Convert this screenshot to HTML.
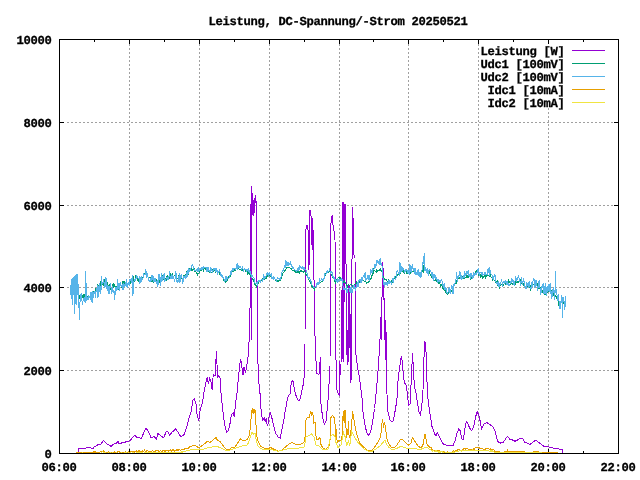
<!DOCTYPE html>
<html><head><meta charset="utf-8"><style>
html,body{margin:0;padding:0;background:#fff;}
svg{display:block;}
text{font-family:"Liberation Mono",monospace;font-weight:bold;font-size:12.2px;text-rendering:geometricPrecision;fill:#000;stroke:#000;stroke-width:0.3px;}
</style></head><body>
<svg width="640" height="480" viewBox="0 0 640 480">
<rect width="640" height="480" fill="#fff"/>
<path d="M129.5 44V449 M199.5 44V449 M269.5 44V449 M339.5 44V449 M408.5 44V449 M478.5 44V449 M548.5 44V449 M67 370.5H613 M67 287.5H613 M67 205.5H613 M67 122.5H613" stroke="#a0a0a0" stroke-dasharray="2 2" fill="none"/>
<path d="M59.5 39v5M59.5 454v-5 M94.5 39v3M94.5 454v-3 M129.5 39v5M129.5 454v-5 M164.5 39v3M164.5 454v-3 M199.5 39v5M199.5 454v-5 M234.5 39v3M234.5 454v-3 M269.5 39v5M269.5 454v-5 M304.5 39v3M304.5 454v-3 M339.5 39v5M339.5 454v-5 M373.5 39v3M373.5 454v-3 M408.5 39v5M408.5 454v-5 M443.5 39v3M443.5 454v-3 M478.5 39v5M478.5 454v-5 M513.5 39v3M513.5 454v-3 M548.5 39v5M548.5 454v-5 M583.5 39v3M583.5 454v-3 M618.5 39v5M618.5 454v-5 M59 453.5h5M619 453.5h-5 M59 370.5h5M619 370.5h-5 M59 287.5h5M619 287.5h-5 M59 205.5h5M619 205.5h-5 M59 122.5h5M619 122.5h-5 M59 39.5h5M619 39.5h-5" stroke="#000" fill="none"/>
<path d="M78.3 452.5 78.3 448.4 85.8 448.4 86.3 447.5 87.7 448.0 89.1 447.0 91.0 448.0 93.3 448.0 94.7 446.5 96.6 445.6 98.5 444.2 99.9 445.1 101.3 443.7 102.7 441.4 103.4 440.2 104.6 441.8 106.0 443.2 107.9 444.6 109.8 445.6 111.1 446.5 113.0 444.6 114.4 443.7 116.3 443.2 118.2 441.4 119.1 443.7 121.0 443.2 122.9 442.5 124.7 442.3 127.1 441.4 129.4 440.9 131.3 439.5 132.7 437.2 134.6 435.3 136.0 436.7 136.9 437.5 141.6 438.3 144.0 432.0 146.0 427.8 148.6 432.0 151.0 437.5 154.0 436.7 156.4 439.0 158.0 433.6 161.9 436.7 163.6 437.7 166.0 432.2 167.7 431.0 169.6 435.3 172.0 432.2 175.6 429.0 178.0 432.2 181.0 437.0 184.0 434.6 186.3 428.6 188.7 419.0 191.0 411.9 193.0 399.9 194.2 398.7 196.0 403.5 197.0 414.2 198.8 421.0 200.2 409.5 202.6 402.3 204.3 390.3 206.0 381.9 207.2 377.1 208.4 384.3 209.6 378.3 210.8 380.7 212.2 390.3 213.2 374.7 215.0 375.9 216.5 350.8 217.5 377.1 218.7 375.4 220.0 378.0 221.1 394.0 222.3 405.7 223.4 414.9 224.6 424.0 226.4 432.0 228.0 431.0 229.6 426.3 231.0 417.0 232.2 413.7 233.3 412.6 234.2 417.0 235.6 403.4 237.2 392.0 238.3 378.0 239.7 365.5 240.6 358.7 241.8 366.7 243.0 374.7 244.1 366.7 244.8 370.0 245.7 372.4 247.0 364.4 248.0 357.5 248.9 343.8 249.8 330.0 251.2 186.0 251.6 340.0 252.0 191.0 252.3 215.0 252.6 196.0 253.0 215.0 253.3 200.0 253.8 216.0 254.3 198.0 254.8 213.0 255.2 195.0 255.8 195.0 256.2 205.0 256.6 215.0 256.9 260.0 257.3 340.0 257.9 360.8 258.8 381.7 259.8 390.0 260.8 406.7 261.9 417.0 262.9 420.2 264.2 418.0 265.2 421.2 266.2 419.2 267.3 425.4 268.3 423.3 269.4 414.0 270.4 413.0 271.5 416.0 273.0 423.3 274.6 429.6 276.0 433.8 278.1 436.9 280.2 438.0 281.2 432.7 282.3 427.5 283.8 420.2 285.0 411.9 286.2 406.2 287.5 398.0 288.8 395.0 290.0 394.4 290.6 388.8 291.5 381.2 292.5 380.6 293.5 382.5 294.4 390.0 295.6 394.4 296.9 398.0 298.1 400.0 299.4 400.6 300.6 397.5 301.6 392.5 302.5 387.5 303.8 382.5 304.4 370.0 305.0 365.0 305.1 243.0 306.0 229.4 307.0 225.0 307.6 228.8 308.2 231.0 308.6 270.0 309.0 268.0 309.3 233.8 309.8 210.0 310.7 210.0 311.0 216.0 311.3 245.0 311.6 216.0 312.0 216.0 312.3 248.0 312.6 227.0 313.0 250.0 313.2 230.0 313.6 262.0 314.5 300.0 315.0 336.0 315.8 347.0 316.2 373.0 319.0 374.5 319.3 367.0 319.6 373.0 320.2 357.0 320.6 400.0 322.6 417.6 324.3 424.5 326.0 421.0 327.8 403.8 329.5 376.0 330.0 376.0 330.2 233.0 330.8 225.0 331.7 216.7 332.5 215.8 333.3 230.0 334.2 231.7 335.0 240.0 335.6 310.0 336.2 382.5 337.0 390.0 338.0 393.0 339.2 395.0 339.7 361.0 340.5 375.0 341.0 366.0 341.5 290.0 342.0 362.0 342.8 202.0 343.5 202.0 343.8 362.0 344.3 228.0 345.0 204.0 345.6 204.0 345.9 229.0 346.3 355.0 346.8 290.0 347.2 365.0 347.7 350.0 348.2 362.0 348.5 285.0 349.0 350.0 349.8 285.0 350.5 382.5 351.2 290.0 351.6 380.0 352.2 207.0 352.8 207.0 353.1 223.0 353.6 223.0 354.0 255.0 355.0 258.0 355.4 337.5 356.0 355.0 357.2 365.0 358.5 372.5 359.8 380.0 361.0 390.0 362.2 400.0 363.0 412.0 365.0 425.0 366.8 433.0 368.8 435.4 370.7 431.5 372.6 422.0 374.5 408.5 376.5 389.0 378.4 366.0 380.0 340.0 380.5 316.7 381.0 330.0 381.3 298.0 381.8 340.0 382.2 262.0 382.9 262.0 383.3 300.0 383.8 268.0 384.3 340.0 384.8 301.7 385.4 360.0 385.9 320.0 386.5 385.0 388.0 412.3 390.0 420.0 391.8 422.0 393.0 421.0 394.3 416.0 395.6 408.0 396.9 400.3 398.2 378.0 399.5 369.0 400.8 358.6 401.6 357.3 402.6 363.9 403.4 376.9 404.7 383.4 406.0 384.7 407.3 392.5 408.6 405.5 410.0 404.2 411.2 382.0 412.5 353.4 413.3 366.5 414.4 387.3 415.7 391.2 417.0 400.3 419.0 412.0 420.3 414.6 421.6 408.0 423.0 390.0 424.2 350.8 425.0 341.7 425.8 343.0 426.3 363.9 427.4 392.5 428.7 405.5 430.8 418.5 432.0 426.4 433.4 430.3 434.7 434.2 436.0 435.5 437.3 432.9 438.6 435.5 441.2 440.7 443.8 444.6 447.7 445.4 453.1 445.4 455.2 440.7 457.2 432.6 458.8 429.0 460.2 430.6 461.7 438.7 463.3 439.7 464.7 429.6 466.3 421.4 467.8 423.5 469.4 427.5 471.4 430.6 473.5 427.5 475.5 417.4 477.1 411.7 478.5 414.3 480.0 420.4 481.6 428.5 483.6 424.5 486.7 422.4 489.7 424.5 492.5 426.2 495.0 431.2 497.5 441.2 500.0 443.1 503.1 442.5 505.6 438.8 507.5 436.5 510.0 439.4 512.5 440.0 515.0 441.2 517.5 440.0 520.0 438.1 522.5 438.5 525.0 442.5 527.5 443.1 530.0 444.4 533.1 441.9 535.6 440.2 538.1 441.9 541.2 444.4 543.8 446.2 547.5 446.5 550.0 447.2 553.8 448.1 557.5 448.8 561.2 449.4 562.5 449.4 562.5 452.5" stroke="#9400d3" fill="none" shape-rendering="crispEdges"/>
<path d="M70.6 291.2 71.2 293.5 71.8 291.3 72.3 291.1 72.9 289.3 73.5 291.4 74.1 295.1 74.7 293.2 75.3 294.8 75.8 292.7 76.4 293.1 77.0 292.5 77.6 287.6 78.2 294.9 78.7 296.3 79.3 298.6 79.9 295.4 80.5 295.0 81.1 296.4 81.7 296.6 82.2 297.8 82.8 296.1 83.4 297.3 84.0 294.4 84.6 296.8 85.1 297.0 85.7 294.4 86.3 300.2 86.9 297.3 87.5 299.2 88.1 295.2 88.6 295.3 89.2 296.7 89.8 297.6 90.4 299.0 91.0 297.4 91.6 295.1 92.1 293.2 92.7 293.5 93.3 296.9 93.9 291.5 94.5 293.2 95.0 292.9 95.6 287.6 96.2 290.3 96.8 292.3 97.4 283.9 98.0 287.0 98.5 286.7 99.1 284.3 99.7 286.5 100.3 284.6 100.9 280.9 101.4 285.4 102.0 284.5 102.6 284.5 103.2 285.0 103.8 282.0 104.4 281.7 104.9 279.4 105.5 284.4 106.1 282.5 106.7 283.6 107.3 282.7 107.8 284.1 108.4 285.8 109.0 290.4 109.6 284.3 110.2 285.9 110.8 289.2 111.3 291.5 111.9 289.5 112.5 284.3 113.1 283.9 113.7 288.4 114.2 285.9 114.8 284.8 115.4 288.7 116.0 288.7 116.6 286.5 117.2 286.4 117.7 286.6 118.3 288.7 118.9 286.6 119.5 286.2 120.1 286.0 120.7 282.0 121.2 287.4 121.8 286.8 122.4 286.0 123.0 281.3 123.6 283.8 124.1 286.5 124.7 281.3 125.3 284.0 125.9 285.9 126.5 281.4 127.1 286.4 127.6 284.2 128.2 282.5 128.8 282.8 129.4 282.8 130.0 281.2 130.5 282.5 131.1 278.8 131.7 279.0 132.3 281.4 132.9 279.4 133.5 277.7 134.0 280.6 134.6 281.3 135.2 277.8 135.8 276.0 136.4 278.0 136.9 277.8 137.5 278.0 138.1 281.5 138.7 277.9 139.3 282.4 139.9 278.7 140.4 279.0 141.0 280.4 141.6 280.3 142.2 279.0 142.8 277.2 143.3 275.9 143.9 275.0 144.5 274.7 145.1 272.8 145.7 274.1 146.3 275.2 146.8 274.8 147.4 276.7 148.0 276.9 148.6 279.9 149.2 277.7 149.8 277.0 150.3 277.6 150.9 278.5 151.5 280.4 152.1 278.7 152.7 280.2 153.2 282.9 153.8 277.0 154.4 278.8 155.0 281.4 155.6 281.4 156.2 280.9 156.7 279.6 157.3 281.1 157.9 280.3 158.5 278.8 159.1 282.6 159.6 279.7 160.2 278.1 160.8 278.7 161.4 278.4 162.0 278.5 162.6 275.3 163.1 277.6 163.7 279.9 164.3 276.3 164.9 277.9 165.5 279.4 166.0 279.0 166.6 279.8 167.2 274.7 167.8 276.6 168.4 276.5 169.0 277.8 169.5 278.3 170.1 273.4 170.7 278.0 171.3 273.9 171.9 277.0 172.4 273.5 173.0 275.9 173.6 277.2 174.2 275.0 174.8 275.4 175.4 276.5 175.9 276.0 176.5 276.1 177.1 279.0 177.7 278.7 178.3 277.2 178.9 281.1 179.4 276.8 180.0 280.4 180.6 278.3 181.2 278.6 181.8 279.1 182.3 278.1 182.9 278.4 183.5 275.2 184.1 275.0 184.7 277.5 185.3 275.0 185.8 274.2 186.4 272.9 187.0 275.4 187.6 274.0 188.2 274.0 188.7 270.6 189.3 270.9 189.9 268.9 190.5 270.6 191.1 271.1 191.7 268.5 192.2 270.5 192.8 269.7 193.4 269.0 194.0 268.1 194.6 271.5 195.1 270.9 195.7 271.1 196.3 272.5 196.9 273.2 197.5 274.6 198.1 273.1 198.6 273.6 199.2 272.7 199.8 271.5 200.4 269.8 201.0 269.3 201.5 270.6 202.1 269.9 202.7 269.8 203.3 270.8 203.9 269.4 204.5 268.0 205.0 269.2 205.6 268.3 206.2 270.5 206.8 270.3 207.4 269.7 208.0 270.4 208.5 271.2 209.1 270.8 209.7 271.9 210.3 271.0 210.9 271.8 211.4 272.1 212.0 272.2 212.6 270.5 213.2 271.7 213.8 269.6 214.4 270.2 214.9 269.6 215.5 271.9 216.1 270.5 216.7 271.5 217.3 271.6 217.8 271.9 218.4 271.7 219.0 272.5 219.6 273.8 220.2 273.0 220.8 274.4 221.3 275.8 221.9 276.1 222.5 276.4 223.1 278.0 223.7 280.2 224.2 279.4 224.8 281.3 225.4 282.3 226.0 281.6 226.6 280.4 227.2 280.4 227.7 279.4 228.3 277.6 228.9 276.4 229.5 276.0 230.1 276.1 230.6 274.0 231.2 272.8 231.8 272.3 232.4 271.2 233.0 271.6 233.6 270.3 234.1 270.8 234.7 268.8 235.3 270.1 235.9 269.1 236.5 268.0 237.1 269.5 237.6 268.6 238.2 267.6 238.8 268.5 239.4 269.4 240.0 269.0 240.5 270.0 241.1 270.1 241.7 270.1 242.3 270.0 242.9 270.8 243.5 270.4 244.0 270.4 244.6 268.9 245.2 270.9 245.8 271.5 246.4 270.8 246.9 271.1 247.5 273.0 248.1 271.0 248.7 272.8 249.3 274.2 249.9 272.7 250.4 274.8 251.0 276.8 251.6 276.7 252.2 278.4 252.8 279.8 253.3 279.9 253.9 281.6 254.5 283.1 255.1 284.7 255.7 285.4 256.3 286.6 256.8 285.0 257.4 284.4 258.0 284.2 258.6 282.7 259.2 281.1 259.7 280.5 260.3 282.1 260.9 281.2 261.5 280.6 262.1 278.6 262.7 280.0 263.2 279.6 263.8 280.1 264.4 278.9 265.0 278.3 265.6 278.4 266.2 276.2 266.7 277.6 267.3 276.5 267.9 275.3 268.5 276.1 269.1 275.8 269.6 273.5 270.2 274.7 270.8 276.1 271.4 276.8 272.0 277.1 272.6 277.2 273.1 279.6 273.7 279.4 274.3 278.4 274.9 278.7 275.5 281.0 276.0 280.9 276.6 281.7 277.2 281.4 277.8 280.6 278.4 281.3 279.0 279.7 279.5 280.3 280.1 280.6 280.7 280.2 281.3 277.6 281.9 276.2 282.4 274.8 283.0 273.3 283.6 272.6 284.2 271.5 284.8 270.3 285.4 270.2 285.9 268.9 286.5 267.9 287.1 267.8 287.7 267.9 288.3 267.5 288.8 267.4 289.4 267.5 290.0 268.1 290.6 268.3 291.2 268.1 291.8 269.6 292.3 270.4 292.9 270.5 293.5 270.5 294.1 271.3 294.7 270.8 295.3 270.6 295.8 272.1 296.4 271.6 297.0 272.8 297.6 271.8 298.2 271.3 298.7 271.8 299.3 273.2 299.9 271.7 300.5 270.7 301.1 270.8 301.7 271.3 302.2 271.3 302.8 271.1 303.4 272.0 304.0 271.5 304.6 271.0 305.1 272.3 305.7 274.2 306.3 274.9 306.9 276.1 307.5 275.9 308.1 277.7 308.6 279.4 309.2 279.9 309.8 281.9 310.4 282.8 311.0 284.1 311.5 284.4 312.1 286.9 312.7 287.5 313.3 287.6 313.9 288.8 314.5 289.8 315.0 287.5 315.6 287.6 316.2 287.0 316.8 285.7 317.4 284.3 317.9 284.5 318.5 284.1 319.1 284.0 319.7 283.1 320.3 282.0 320.9 282.3 321.4 281.9 322.0 281.5 322.6 281.2 323.2 280.4 323.8 279.6 324.4 277.2 324.9 276.1 325.5 275.1 326.1 273.0 326.7 273.1 327.3 271.5 327.8 271.8 328.4 272.1 329.0 271.5 329.6 271.1 330.2 271.9 330.8 272.1 331.3 275.4 331.9 275.4 332.5 276.9 333.1 276.3 333.7 278.0 334.2 277.6 334.8 281.0 335.4 282.3 336.0 279.5 336.6 280.9 337.2 281.2 337.7 278.2 338.3 277.6 338.9 278.1 339.5 278.3 340.1 277.0 340.6 278.5 341.2 278.5 341.8 278.6 342.4 279.7 343.0 281.8 343.6 282.6 344.1 280.6 344.7 282.8 345.3 282.9 345.9 283.4 346.5 285.1 347.0 285.6 347.6 286.7 348.2 284.3 348.8 284.5 349.4 285.7 350.0 285.2 350.5 284.8 351.1 284.8 351.7 284.1 352.3 286.2 352.9 286.1 353.5 285.8 354.0 285.4 354.6 286.0 355.2 283.1 355.8 283.8 356.4 284.5 356.9 282.0 357.5 283.5 358.1 283.2 358.7 281.0 359.3 282.1 359.9 281.7 360.4 282.3 361.0 282.2 361.6 281.1 362.2 279.9 362.8 280.4 363.3 280.1 363.9 281.0 364.5 281.3 365.1 281.0 365.7 281.1 366.3 282.8 366.8 283.2 367.4 282.2 368.0 282.5 368.6 281.3 369.2 281.2 369.7 280.9 370.3 278.7 370.9 279.7 371.5 275.8 372.1 275.8 372.7 273.3 373.2 273.3 373.8 269.6 374.4 270.5 375.0 271.2 375.6 271.1 376.1 272.2 376.7 270.3 377.3 271.3 377.9 270.7 378.5 270.8 379.1 270.3 379.6 269.6 380.2 270.4 380.8 268.7 381.4 271.3 382.0 270.1 382.6 274.0 383.1 278.5 383.7 277.2 384.3 278.1 384.9 279.9 385.5 279.3 386.0 278.8 386.6 280.4 387.2 281.2 387.8 281.8 388.4 280.5 389.0 283.7 389.5 283.6 390.1 281.7 390.7 282.0 391.3 281.2 391.9 283.3 392.4 280.2 393.0 281.1 393.6 279.0 394.2 278.0 394.8 278.9 395.4 278.9 395.9 276.6 396.5 275.0 397.1 276.0 397.7 274.3 398.3 274.0 398.8 274.9 399.4 273.9 400.0 271.4 400.6 273.8 401.2 270.9 401.8 271.9 402.3 270.3 402.9 271.2 403.5 269.3 404.1 273.7 404.7 273.4 405.2 270.5 405.8 270.4 406.4 270.6 407.0 274.2 407.6 272.4 408.2 272.8 408.7 272.3 409.3 272.4 409.9 271.2 410.5 272.4 411.1 270.4 411.7 271.7 412.2 271.9 412.8 271.8 413.4 270.7 414.0 269.8 414.6 271.4 415.1 270.9 415.7 273.6 416.3 272.9 416.9 272.2 417.5 272.0 418.1 272.1 418.6 272.1 419.2 273.1 419.8 274.2 420.4 274.6 421.0 274.7 421.5 275.7 422.1 271.2 422.7 270.7 423.3 271.8 423.9 265.8 424.5 266.4 425.0 268.1 425.6 268.9 426.2 270.1 426.8 270.2 427.4 271.8 427.9 272.2 428.5 273.8 429.1 271.4 429.7 273.3 430.3 275.1 430.9 274.6 431.4 275.3 432.0 278.0 432.6 277.2 433.2 279.5 433.8 280.3 434.3 280.1 434.9 280.6 435.5 280.2 436.1 278.9 436.7 280.9 437.3 281.8 437.8 281.1 438.4 282.0 439.0 283.5 439.6 281.9 440.2 284.3 440.8 286.5 441.3 284.4 441.9 286.0 442.5 286.4 443.1 289.2 443.7 288.8 444.2 290.7 444.8 289.9 445.4 291.8 446.0 292.9 446.6 291.1 447.2 294.7 447.7 293.8 448.3 290.3 448.9 293.0 449.5 291.7 450.1 292.4 450.6 292.3 451.2 290.1 451.8 291.6 452.4 293.7 453.0 289.8 453.6 287.5 454.1 285.3 454.7 283.7 455.3 283.8 455.9 284.0 456.5 281.5 457.0 280.3 457.6 281.4 458.2 277.3 458.8 276.2 459.4 278.0 460.0 278.3 460.5 276.7 461.1 276.8 461.7 278.8 462.3 278.8 462.9 276.8 463.4 278.0 464.0 277.4 464.6 278.5 465.2 277.5 465.8 277.1 466.4 276.3 466.9 277.6 467.5 277.5 468.1 275.1 468.7 277.0 469.3 275.5 469.9 276.9 470.4 278.1 471.0 279.5 471.6 277.0 472.2 276.8 472.8 276.5 473.3 273.9 473.9 275.2 474.5 273.8 475.1 274.6 475.7 272.3 476.3 270.9 476.8 272.9 477.4 272.7 478.0 272.3 478.6 274.8 479.2 274.1 479.7 274.4 480.3 276.5 480.9 274.4 481.5 275.6 482.1 276.6 482.7 277.8 483.2 276.7 483.8 277.3 484.4 275.7 485.0 276.5 485.6 277.7 486.1 274.4 486.7 277.3 487.3 274.0 487.9 275.0 488.5 275.3 489.1 276.5 489.6 273.9 490.2 273.2 490.8 276.9 491.4 277.6 492.0 277.8 492.5 279.9 493.1 278.2 493.7 279.1 494.3 280.8 494.9 281.0 495.5 283.4 496.0 280.6 496.6 282.5 497.2 281.2 497.8 285.4 498.4 284.7 499.0 287.0 499.5 288.8 500.1 286.0 500.7 285.4 501.3 284.8 501.9 284.1 502.4 284.0 503.0 285.4 503.6 284.3 504.2 284.1 504.8 283.5 505.4 284.6 505.9 283.8 506.5 282.7 507.1 283.4 507.7 282.0 508.3 280.5 508.8 283.6 509.4 282.6 510.0 281.1 510.6 284.0 511.2 283.4 511.8 281.2 512.3 285.3 512.9 283.5 513.5 284.0 514.1 283.0 514.7 282.4 515.2 280.4 515.8 283.5 516.4 282.1 517.0 281.5 517.6 282.1 518.2 281.5 518.7 282.1 519.3 280.9 519.9 281.5 520.5 279.0 521.1 281.2 521.6 282.8 522.2 284.1 522.8 282.4 523.4 283.4 524.0 286.3 524.6 284.3 525.1 286.3 525.7 287.8 526.3 285.6 526.9 287.5 527.5 284.8 528.1 286.3 528.6 285.9 529.2 286.2 529.8 287.7 530.4 289.1 531.0 285.0 531.5 284.8 532.1 285.9 532.7 282.8 533.3 284.7 533.9 284.3 534.5 282.4 535.0 284.3 535.6 281.5 536.2 285.9 536.8 282.7 537.4 284.7 537.9 285.5 538.5 286.3 539.1 289.0 539.7 288.3 540.3 288.0 540.9 290.2 541.4 292.4 542.0 290.1 542.6 291.2 543.2 293.2 543.8 291.9 544.3 288.9 544.9 294.8 545.5 294.7 546.1 287.1 546.7 290.6 547.3 291.3 547.8 292.2 548.4 291.5 549.0 289.5 549.6 287.9 550.2 290.3 550.7 293.4 551.3 290.4 551.9 291.7 552.5 294.9 553.1 292.2 553.7 295.8 554.2 295.8 554.8 297.9 555.4 295.8 556.0 295.7 556.6 297.6 557.2 299.6 557.7 299.6 558.3 302.3 558.9 305.2 559.5 307.1 560.1 307.5 560.6 301.5 561.2 301.5 561.8 297.3 562.4 305.1 563.0 299.9 563.6 302.2 564.1 304.2 564.7 300.9 565.3 304.2 565.9 302.1" stroke="#009e73" fill="none" shape-rendering="crispEdges"/>
<path d="M70.6 295.0 71.2 281.5 71.8 295.0 72.3 304.5 72.9 295.0 73.5 276.6 74.1 295.0 74.7 313.5 75.3 295.0 75.8 274.8 76.4 304.5 77.0 274.2 77.6 295.0 78.2 284.0 78.7 295.2 79.3 319.7 79.9 302.7 80.5 299.4 81.1 293.7 81.7 294.7 82.2 305.0 82.8 301.7 83.4 298.9 84.0 299.4 84.6 296.6 85.1 303.4 85.7 271.0 86.3 294.1 86.9 301.1 87.5 297.4 88.1 300.0 88.6 295.1 89.2 297.1 89.8 296.6 90.4 300.0 91.0 291.9 91.6 298.9 92.1 303.0 92.7 290.9 93.3 298.4 93.9 292.8 94.5 291.9 95.0 294.3 95.6 297.9 96.2 287.8 96.8 292.1 97.4 285.3 98.0 297.7 98.5 285.6 99.1 292.4 99.7 283.3 100.3 289.2 100.9 294.0 101.4 275.6 102.0 282.0 102.6 282.9 103.2 282.4 103.8 279.3 104.4 287.5 104.9 283.6 105.5 276.9 106.1 288.5 106.7 278.2 107.3 291.3 107.8 284.7 108.4 288.5 109.0 294.0 109.6 290.0 110.2 284.2 110.8 282.7 111.3 294.4 111.9 292.4 112.5 285.8 113.1 292.4 113.7 290.7 114.2 291.0 114.8 300.0 115.4 286.6 116.0 291.1 116.6 287.3 117.2 290.4 117.7 278.9 118.3 287.2 118.9 288.3 119.5 289.5 120.1 282.3 120.7 284.7 121.2 286.1 121.8 286.9 122.4 284.3 123.0 290.3 123.6 283.1 124.1 286.9 124.7 283.7 125.3 285.9 125.9 282.5 126.5 279.0 127.1 288.4 127.6 285.3 128.2 281.8 128.8 283.9 129.4 286.1 130.0 278.6 130.5 281.1 131.1 278.7 131.7 282.6 132.3 274.6 132.9 296.0 133.5 284.5 134.0 281.1 134.6 279.8 135.2 278.6 135.8 280.3 136.4 277.7 136.9 275.5 137.5 277.0 138.1 278.1 138.7 278.6 139.3 277.3 139.9 284.0 140.4 276.8 141.0 282.6 141.6 276.0 142.2 279.7 142.8 278.1 143.3 277.3 143.9 273.3 144.5 274.9 145.1 274.6 145.7 268.9 146.3 273.2 146.8 276.4 147.4 274.9 148.0 277.3 148.6 280.0 149.2 280.7 149.8 281.7 150.3 281.1 150.9 278.6 151.5 279.8 152.1 274.7 152.7 279.6 153.2 280.4 153.8 275.7 154.4 280.6 155.0 281.9 155.6 278.6 156.2 281.5 156.7 283.0 157.3 280.5 157.9 287.3 158.5 274.2 159.1 279.7 159.6 274.3 160.2 278.9 160.8 286.2 161.4 273.3 162.0 275.6 162.6 281.1 163.1 278.4 163.7 276.5 164.3 272.8 164.9 281.7 165.5 280.0 166.0 278.8 166.6 276.7 167.2 280.3 167.8 276.6 168.4 278.7 169.0 276.2 169.5 271.4 170.1 277.4 170.7 277.9 171.3 279.4 171.9 274.2 172.4 276.7 173.0 278.5 173.6 276.9 174.2 280.0 174.8 282.1 175.4 273.5 175.9 270.9 176.5 279.8 177.1 282.3 177.7 280.9 178.3 281.1 178.9 277.2 179.4 273.0 180.0 282.7 180.6 277.0 181.2 274.2 181.8 276.3 182.3 279.7 182.9 283.8 183.5 276.4 184.1 276.0 184.7 278.3 185.3 275.2 185.8 279.4 186.4 275.2 187.0 271.9 187.6 276.6 188.2 267.8 188.7 272.3 189.3 270.9 189.9 269.4 190.5 270.2 191.1 267.9 191.7 265.3 192.2 264.8 192.8 265.8 193.4 267.0 194.0 268.8 194.6 269.4 195.1 270.7 195.7 270.6 196.3 269.8 196.9 270.5 197.5 269.1 198.1 272.4 198.6 267.4 199.2 271.2 199.8 269.0 200.4 268.5 201.0 270.2 201.5 268.7 202.1 267.4 202.7 269.4 203.3 268.8 203.9 266.6 204.5 267.5 205.0 267.8 205.6 267.3 206.2 267.4 206.8 271.2 207.4 271.7 208.0 266.9 208.5 270.2 209.1 271.3 209.7 270.9 210.3 271.6 210.9 267.9 211.4 268.8 212.0 270.5 212.6 271.9 213.2 270.0 213.8 268.5 214.4 269.3 214.9 268.8 215.5 268.7 216.1 272.3 216.7 269.4 217.3 270.6 217.8 273.6 218.4 272.6 219.0 271.6 219.6 270.4 220.2 272.3 220.8 275.1 221.3 274.8 221.9 276.8 222.5 276.2 223.1 277.9 223.7 278.0 224.2 280.0 224.8 282.3 225.4 278.4 226.0 276.2 226.6 279.6 227.2 277.9 227.7 277.6 228.3 278.3 228.9 279.0 229.5 276.1 230.1 274.7 230.6 271.1 231.2 274.8 231.8 271.7 232.4 268.6 233.0 269.0 233.6 269.9 234.1 267.9 234.7 269.0 235.3 269.3 235.9 268.4 236.5 268.4 237.1 262.7 237.6 269.5 238.2 266.9 238.8 265.5 239.4 267.8 240.0 267.2 240.5 267.0 241.1 267.9 241.7 268.9 242.3 267.1 242.9 268.5 243.5 270.6 244.0 269.8 244.6 268.8 245.2 269.2 245.8 269.3 246.4 269.7 246.9 271.1 247.5 270.4 248.1 268.4 248.7 271.3 249.3 270.6 249.9 273.0 250.4 272.3 251.0 274.5 251.6 278.2 252.2 275.4 252.8 276.5 253.3 277.4 253.9 277.9 254.5 279.3 255.1 283.5 255.7 283.4 256.3 283.1 256.8 282.6 257.4 284.3 258.0 281.5 258.6 281.0 259.2 280.9 259.7 281.6 260.3 282.1 260.9 280.6 261.5 279.2 262.1 279.0 262.7 280.8 263.2 280.0 263.8 274.3 264.4 278.0 265.0 277.5 265.6 276.9 266.2 275.6 266.7 274.0 267.3 274.4 267.9 272.6 268.5 275.6 269.1 274.1 269.6 271.6 270.2 275.8 270.8 275.8 271.4 273.0 272.0 278.5 272.6 277.7 273.1 279.7 273.7 275.9 274.3 278.6 274.9 279.0 275.5 279.0 276.0 279.3 276.6 280.7 277.2 277.7 277.8 278.3 278.4 278.1 279.0 279.0 279.5 278.8 280.1 279.8 280.7 278.5 281.3 276.0 281.9 272.8 282.4 270.9 283.0 270.8 283.6 269.3 284.2 267.3 284.8 265.9 285.4 267.5 285.9 259.6 286.5 265.1 287.1 265.5 287.7 263.3 288.3 264.5 288.8 261.6 289.4 264.6 290.0 264.0 290.6 262.5 291.2 266.1 291.8 264.8 292.3 268.4 292.9 266.6 293.5 267.9 294.1 269.2 294.7 269.1 295.3 270.6 295.8 270.0 296.4 271.5 297.0 270.4 297.6 270.4 298.2 267.2 298.7 270.8 299.3 268.6 299.9 265.5 300.5 267.6 301.1 267.9 301.7 268.5 302.2 265.8 302.8 269.4 303.4 267.3 304.0 270.2 304.6 267.5 305.1 269.6 305.7 269.7 306.3 270.1 306.9 272.3 307.5 275.6 308.1 277.8 308.6 278.3 309.2 277.8 309.8 277.8 310.4 280.3 311.0 281.5 311.5 282.3 312.1 285.2 312.7 285.9 313.3 286.2 313.9 287.8 314.5 287.1 315.0 286.8 315.6 286.9 316.2 286.4 316.8 283.6 317.4 281.9 317.9 285.1 318.5 282.8 319.1 283.5 319.7 279.3 320.3 280.4 320.9 280.6 321.4 278.5 322.0 279.5 322.6 280.9 323.2 280.8 323.8 280.1 324.4 275.5 324.9 273.5 325.5 274.6 326.1 273.9 326.7 272.4 327.3 269.9 327.8 272.1 328.4 271.5 329.0 270.7 329.6 269.3 330.2 271.3 330.8 273.0 331.3 272.0 331.9 271.0 332.5 275.3 333.1 276.7 333.7 277.0 334.2 279.6 334.8 278.0 335.4 280.0 336.0 279.6 336.6 281.0 337.2 282.8 337.7 278.4 338.3 279.9 338.9 281.7 339.5 279.8 340.1 279.1 340.6 280.0 341.2 278.9 341.8 280.0 342.4 279.7 343.0 285.9 343.6 289.3 344.1 288.4 344.7 289.3 345.3 288.5 345.9 289.9 346.5 286.4 347.0 293.1 347.6 289.9 348.2 288.3 348.8 288.9 349.4 288.5 350.0 292.4 350.5 292.6 351.1 286.3 351.7 292.1 352.3 292.3 352.9 289.0 353.5 287.0 354.0 289.2 354.6 285.1 355.2 291.3 355.8 288.9 356.4 283.7 356.9 287.8 357.5 282.0 358.1 286.9 358.7 280.5 359.3 280.6 359.9 279.1 360.4 279.2 361.0 282.9 361.6 276.7 362.2 280.3 362.8 279.2 363.3 274.8 363.9 276.8 364.5 277.4 365.1 272.3 365.7 280.6 366.3 278.7 366.8 279.3 367.4 277.9 368.0 275.0 368.6 279.4 369.2 280.0 369.7 276.7 370.3 273.0 370.9 269.2 371.5 272.0 372.1 272.6 372.7 269.0 373.2 269.1 373.8 269.7 374.4 268.3 375.0 264.4 375.6 266.9 376.1 265.7 376.7 260.4 377.3 262.6 377.9 260.1 378.5 262.7 379.1 263.9 379.6 260.1 380.2 257.9 380.8 265.0 381.4 262.8 382.0 266.2 382.6 268.1 383.1 280.5 383.7 284.4 384.3 285.6 384.9 281.9 385.5 284.1 386.0 284.1 386.6 282.3 387.2 285.9 387.8 283.3 388.4 279.6 389.0 283.8 389.5 280.1 390.1 281.9 390.7 281.1 391.3 284.2 391.9 283.1 392.4 278.8 393.0 279.9 393.6 282.5 394.2 276.4 394.8 277.9 395.4 278.9 395.9 278.3 396.5 275.8 397.1 270.7 397.7 270.1 398.3 273.0 398.8 272.8 399.4 276.1 400.0 262.5 400.6 273.0 401.2 271.5 401.8 265.7 402.3 267.9 402.9 270.4 403.5 269.0 404.1 269.9 404.7 271.6 405.2 268.8 405.8 272.2 406.4 269.8 407.0 270.3 407.6 273.1 408.2 270.3 408.7 272.2 409.3 275.2 409.9 264.0 410.5 270.8 411.1 272.6 411.7 269.7 412.2 264.6 412.8 267.0 413.4 271.3 414.0 268.5 414.6 268.1 415.1 274.5 415.7 268.5 416.3 275.0 416.9 272.7 417.5 274.9 418.1 269.4 418.6 274.9 419.2 275.9 419.8 272.4 420.4 272.5 421.0 277.6 421.5 272.6 422.1 269.8 422.7 268.0 423.3 256.0 423.9 263.6 424.5 252.8 425.0 270.8 425.6 266.8 426.2 269.6 426.8 272.8 427.4 267.8 427.9 273.5 428.5 276.1 429.1 269.2 429.7 270.5 430.3 271.4 430.9 270.2 431.4 276.4 432.0 271.6 432.6 275.9 433.2 281.0 433.8 274.3 434.3 277.7 434.9 274.2 435.5 278.0 436.1 277.6 436.7 279.0 437.3 280.2 437.8 281.8 438.4 280.1 439.0 281.4 439.6 280.5 440.2 282.6 440.8 280.3 441.3 279.5 441.9 280.0 442.5 284.2 443.1 286.2 443.7 287.5 444.2 282.6 444.8 290.1 445.4 288.3 446.0 287.7 446.6 290.3 447.2 293.5 447.7 292.4 448.3 291.0 448.9 288.7 449.5 288.1 450.1 293.9 450.6 291.3 451.2 288.4 451.8 285.9 452.4 287.4 453.0 294.1 453.6 284.7 454.1 285.5 454.7 284.5 455.3 281.8 455.9 280.1 456.5 272.4 457.0 276.2 457.6 281.8 458.2 274.9 458.8 277.9 459.4 272.1 460.0 271.6 460.5 277.3 461.1 279.5 461.7 274.6 462.3 278.7 462.9 278.1 463.4 275.2 464.0 278.0 464.6 271.5 465.2 274.5 465.8 276.0 466.4 270.8 466.9 274.8 467.5 272.3 468.1 270.9 468.7 273.8 469.3 277.0 469.9 274.6 470.4 279.1 471.0 273.6 471.6 273.1 472.2 279.4 472.8 276.1 473.3 276.8 473.9 272.0 474.5 275.4 475.1 273.6 475.7 274.1 476.3 272.1 476.8 274.5 477.4 269.6 478.0 269.4 478.6 268.9 479.2 276.0 479.7 272.2 480.3 272.2 480.9 272.8 481.5 274.2 482.1 272.3 482.7 274.8 483.2 274.1 483.8 274.4 484.4 273.0 485.0 275.0 485.6 273.3 486.1 274.3 486.7 274.2 487.3 274.4 487.9 268.8 488.5 272.6 489.1 267.1 489.6 276.1 490.2 270.6 490.8 273.1 491.4 274.6 492.0 275.0 492.5 278.7 493.1 275.7 493.7 280.0 494.3 274.8 494.9 274.8 495.5 278.4 496.0 282.1 496.6 283.0 497.2 282.8 497.8 284.4 498.4 280.9 499.0 287.0 499.5 283.8 500.1 283.0 500.7 284.8 501.3 279.2 501.9 280.7 502.4 286.5 503.0 283.0 503.6 282.1 504.2 283.4 504.8 281.4 505.4 280.8 505.9 282.2 506.5 282.0 507.1 285.2 507.7 281.2 508.3 285.5 508.8 285.2 509.4 285.2 510.0 283.9 510.6 281.8 511.2 282.1 511.8 278.0 512.3 280.1 512.9 281.7 513.5 280.0 514.1 285.8 514.7 282.8 515.2 280.1 515.8 276.1 516.4 280.7 517.0 279.6 517.6 277.6 518.2 277.3 518.7 274.9 519.3 281.7 519.9 280.2 520.5 285.7 521.1 280.5 521.6 277.0 522.2 285.0 522.8 282.1 523.4 278.3 524.0 281.9 524.6 281.8 525.1 288.3 525.7 287.1 526.3 289.3 526.9 283.5 527.5 284.7 528.1 282.2 528.6 287.7 529.2 280.6 529.8 286.5 530.4 288.2 531.0 289.2 531.5 281.6 532.1 287.3 532.7 281.1 533.3 280.3 533.9 277.9 534.5 285.4 535.0 287.7 535.6 280.9 536.2 280.9 536.8 282.9 537.4 291.4 537.9 288.7 538.5 283.9 539.1 280.2 539.7 284.6 540.3 291.7 540.9 294.6 541.4 287.5 542.0 286.4 542.6 287.5 543.2 282.9 543.8 293.5 544.3 286.1 544.9 293.8 545.5 283.4 546.1 296.0 546.7 288.0 547.3 286.4 547.8 292.1 548.4 289.0 549.0 284.3 549.6 291.1 550.2 292.2 550.7 282.7 551.3 298.5 551.9 294.5 552.5 296.8 553.1 287.4 553.7 292.2 554.2 294.0 554.8 300.1 555.4 271.0 556.0 292.7 556.6 288.9 557.2 297.5 557.7 301.2 558.3 294.0 558.9 299.9 559.5 305.6 560.1 309.4 560.6 304.8 561.2 299.9 561.8 295.4 562.4 318.0 563.0 297.3 563.6 301.7 564.1 301.7 564.7 310.1 565.3 303.3 565.9 296.2" stroke="#56b4e9" fill="none" shape-rendering="crispEdges"/>
<path d="M70.5 295 L70.5 287 L70.5 287 L71.5 279 L73 277 L75 275.3 L77 274.2 L78 274.2 L78.5 295 Z" fill="#56b4e9" shape-rendering="crispEdges"/>
<path d="M76.6 452.1 77.2 452.6 77.8 452.6 78.4 452.3 79.0 452.0 79.6 452.5 80.2 452.6 80.8 452.6 81.4 452.0 82.0 452.0 82.6 452.6 83.2 452.6 83.8 452.6 84.4 452.6 85.0 452.4 85.6 452.3 86.2 452.6 86.8 452.3 87.4 452.1 88.0 452.0 88.6 452.4 89.2 452.4 89.8 452.3 90.4 452.4 91.0 452.5 91.6 452.6 92.2 452.6 92.8 452.4 93.4 451.7 94.0 452.6 94.6 451.8 95.2 452.3 95.8 451.8 96.4 452.3 97.0 452.1 97.6 452.4 98.2 452.6 98.8 452.3 99.4 452.6 100.0 451.8 100.6 451.9 101.2 451.9 101.8 451.4 102.4 451.4 103.0 451.3 103.6 450.9 104.2 451.5 104.8 451.5 105.4 452.6 106.0 452.1 106.6 452.5 107.2 452.3 107.8 452.6 108.4 452.0 109.0 452.6 109.6 452.2 110.2 452.6 110.8 452.4 111.4 452.2 112.0 451.9 112.6 452.4 113.2 452.3 113.8 452.6 114.4 452.0 115.0 452.3 115.6 452.3 116.2 452.2 116.8 452.2 117.4 452.1 118.0 451.8 118.6 451.7 119.2 451.9 119.8 452.2 120.4 452.5 121.0 452.3 121.6 452.4 122.2 452.3 122.8 452.2 123.4 452.0 124.0 452.2 124.6 452.6 125.2 451.8 125.8 451.7 126.4 452.6 127.0 452.0 127.6 452.2 128.2 452.2 128.8 451.5 129.4 452.6 130.0 452.5 130.6 451.9 131.2 452.1 131.8 451.8 132.4 451.5 133.0 451.7 133.6 451.8 134.2 452.1 134.8 451.9 135.4 451.6 136.0 452.0 136.6 451.2 137.2 451.8 137.8 451.8 138.4 451.3 139.0 450.7 139.6 451.0 140.2 451.4 140.8 451.4 141.4 451.8 142.0 450.8 142.6 451.1 143.2 451.3 143.8 451.0 144.4 450.2 145.0 451.3 145.6 451.8 146.2 451.4 146.8 450.7 147.4 450.9 148.0 451.1 148.6 451.9 149.2 451.2 149.8 451.0 150.4 451.5 151.0 451.0 151.6 451.7 152.2 450.8 152.8 450.8 153.4 451.3 154.0 451.5 154.6 451.2 155.2 451.1 155.8 450.4 156.4 450.8 157.0 450.8 157.6 450.8 158.2 451.2 158.8 450.9 159.4 451.3 160.0 451.0 160.6 450.9 161.2 451.0 161.8 451.1 162.4 451.2 163.0 450.7 163.6 450.8 164.2 450.3 164.8 451.3 165.4 451.3 166.0 450.7 166.6 450.5 167.2 450.2 167.8 450.7 168.4 450.7 169.0 451.3 169.6 450.6 170.2 450.3 170.8 449.6 171.4 451.0 172.0 450.5 172.6 449.8 173.2 450.4 173.8 449.8 174.4 451.5 175.0 450.7 175.6 450.4 176.2 450.1 176.8 449.4 177.4 450.0 178.0 449.5 178.6 450.1 179.2 449.1 179.8 449.5 180.4 450.2 181.0 450.3 181.6 449.3 182.2 449.1 182.8 450.0 183.4 449.9 184.0 449.1 184.6 449.0 185.2 448.7 185.8 448.3 186.4 448.2 187.0 448.7 187.6 448.2 188.2 448.4 188.8 447.4 189.4 447.1 190.0 446.5 191.2 446.2 194.4 445.2 196.2 446.2 198.8 448.0 201.2 446.2 204.4 443.8 207.5 441.2 210.0 442.5 213.1 440.0 216.2 437.5 217.5 440.6 220.0 441.2 222.5 445.0 225.0 448.0 226.9 450.0 229.4 449.4 231.2 447.5 234.4 447.5 236.9 444.4 238.8 441.2 240.6 438.8 242.5 440.6 245.0 440.6 247.5 439.4 249.4 435.0 250.6 425.0 251.5 411.2 252.3 409.5 252.8 413.0 253.3 409.4 253.8 413.5 254.4 409.5 255.0 413.0 255.6 410.0 256.0 425.0 256.9 436.2 258.1 441.2 260.5 446.2 264.2 448.0 268.0 448.8 270.5 447.5 274.2 449.4 278.0 451.2 281.8 450.0 285.5 446.9 289.2 443.8 292.4 442.5 295.5 444.4 299.2 445.0 303.0 443.0 304.9 441.2 305.5 421.9 306.8 418.1 309.2 417.5 310.5 412.5 311.5 416.0 312.0 412.0 313.0 415.0 313.6 423.0 315.5 422.5 316.1 438.8 318.0 440.0 319.9 437.5 321.1 445.0 323.0 448.0 325.5 449.4 328.0 447.5 329.9 445.0 330.5 418.1 332.4 415.6 334.2 417.5 335.5 427.5 336.0 440.0 336.2 428.8 337.2 442.5 339.1 440.0 341.0 441.2 342.2 435.0 343.2 411.2 344.1 422.5 345.0 410.0 345.8 425.0 346.6 437.5 347.9 431.2 348.5 421.2 349.1 437.5 350.4 435.0 351.6 425.0 352.5 411.2 353.5 416.2 354.8 425.0 355.4 428.8 356.6 433.8 357.9 437.5 359.8 443.1 362.2 445.6 364.8 448.1 367.2 450.0 369.8 450.6 372.2 450.0 374.8 446.9 377.2 443.1 379.8 438.8 381.0 433.1 382.5 418.8 383.5 427.5 384.5 422.5 385.4 426.2 386.6 437.5 388.5 443.1 391.0 446.9 392.9 448.1 396.0 446.2 398.5 442.5 401.0 438.8 403.5 440.6 406.0 443.1 408.5 445.0 411.0 443.1 412.5 437.5 414.1 440.0 416.5 443.8 419.0 446.9 421.5 447.5 423.4 443.8 424.6 434.4 425.5 435.0 426.5 443.1 428.4 446.2 430.0 447.3 430.6 447.4 431.2 447.8 431.8 449.3 432.4 450.2 433.0 450.3 433.6 450.6 434.2 450.3 434.8 450.1 435.4 450.5 436.0 450.4 436.6 450.2 437.2 450.1 437.8 450.3 438.4 450.9 439.0 451.1 439.6 451.0 440.2 451.7 440.8 451.5 441.4 451.8 442.0 452.1 442.6 451.6 443.2 451.3 443.8 452.5 444.4 452.0 445.0 452.6 445.6 452.4 446.2 452.6 446.8 452.6 447.4 451.7 448.0 452.6 448.6 452.2 449.2 452.2 449.8 452.3 450.4 452.6 451.0 452.6 451.6 452.5 452.2 451.5 452.8 451.8 453.4 451.1 454.0 451.9 454.6 451.7 455.2 450.8 455.8 450.8 456.4 450.4 457.0 450.4 457.6 449.6 458.2 449.4 458.8 449.2 459.4 450.2 460.0 450.3 460.6 450.1 461.2 450.5 461.8 450.4 462.4 450.0 463.0 449.4 463.6 448.9 464.2 448.3 464.8 448.4 465.4 449.2 466.0 448.7 466.6 448.6 467.2 448.7 467.8 449.0 468.4 449.3 469.0 449.2 469.6 449.6 470.2 449.8 470.8 449.6 471.4 449.7 472.0 449.5 472.6 449.4 473.2 449.9 473.8 448.6 474.4 448.9 475.0 448.2 475.6 447.6 476.2 447.5 476.8 447.9 477.4 447.5 478.0 447.5 478.6 447.3 479.2 447.6 479.8 448.2 480.4 448.1 481.0 448.1 481.6 448.3 482.2 448.5 482.8 448.6 483.4 449.6 484.0 449.5 484.6 449.1 485.2 449.5 485.8 448.5 486.4 448.8 487.0 449.0 487.6 448.4 488.2 448.6 488.8 449.0 489.4 449.7 490.0 449.9 490.6 449.0 491.2 449.8 491.8 449.3 492.4 449.3 493.0 449.2 493.6 449.3 495.0 451.5 499.7 451.5 500.2 452.5 503.8 452.5 504.2 451.5 507.0 451.5 507.5 450.5 508.0 451.5 524.7 451.5 525.2 452.5 533.0 452.5 533.2 451.3 538.8 451.3 539.2 452.5 558.0 452.5" stroke="#e69f00" fill="none" shape-rendering="crispEdges"/>
<path d="M77.0 452.9 77.6 453.4 78.2 453.2 78.8 453.2 79.4 453.4 80.0 453.3 80.6 453.2 81.2 453.4 81.8 453.2 82.4 452.9 83.0 452.9 83.6 453.1 84.2 453.4 84.8 453.4 85.4 453.4 86.0 453.4 86.6 453.4 87.2 453.4 87.8 453.4 88.4 453.4 89.0 453.1 89.6 453.4 90.2 453.3 90.8 453.3 91.4 453.4 92.0 453.4 92.6 453.2 93.2 453.3 93.8 453.4 94.4 453.2 95.0 453.4 95.6 453.4 96.2 453.4 96.8 453.4 97.4 453.2 98.0 453.2 98.6 453.3 99.2 453.2 99.8 453.4 100.4 453.4 101.0 453.0 101.6 452.8 102.2 451.9 102.8 452.0 103.4 452.1 104.0 452.2 104.6 452.1 105.2 452.5 105.8 453.4 106.4 453.2 107.0 453.1 107.6 453.4 108.2 453.1 108.8 452.8 109.4 453.4 110.0 453.4 110.6 453.0 111.2 453.4 111.8 453.4 112.4 452.9 113.0 453.4 113.6 453.3 114.2 452.9 114.8 453.3 115.4 453.2 116.0 453.4 116.6 452.8 117.2 453.4 117.8 453.4 118.4 453.4 119.0 453.3 119.6 453.4 120.2 453.4 120.8 453.2 121.4 452.9 122.0 453.4 122.6 453.4 123.2 453.2 123.8 453.2 124.4 453.3 125.0 452.3 125.6 453.2 126.2 452.3 126.8 453.1 127.4 453.4 128.0 453.4 128.6 452.9 129.2 453.2 129.8 453.0 130.4 452.4 131.0 453.2 131.6 453.0 132.2 453.0 132.8 452.7 133.4 453.0 134.0 453.0 134.6 453.4 135.2 453.1 135.8 453.4 136.4 452.8 137.0 452.9 137.6 452.9 138.2 452.7 138.8 453.4 139.4 453.1 140.0 452.5 140.6 453.0 141.2 453.3 141.8 452.5 142.4 452.9 143.0 452.8 143.6 453.4 144.2 453.0 144.8 452.7 145.4 452.7 146.0 453.4 146.6 452.7 147.2 453.4 147.8 452.4 148.4 452.8 149.0 452.8 149.6 452.6 150.2 452.7 150.8 453.0 151.4 452.6 152.0 452.4 152.6 453.2 153.2 453.2 153.8 452.6 154.4 452.9 155.0 452.0 155.6 453.1 156.2 452.3 156.8 452.6 157.4 453.4 158.0 452.4 158.6 452.7 159.2 452.4 159.8 452.2 160.4 452.4 161.0 452.8 161.6 452.3 162.2 452.5 162.8 452.9 163.4 452.6 164.0 452.3 164.6 453.1 165.2 452.7 165.8 453.1 166.4 452.3 167.0 453.2 167.6 452.2 168.2 452.1 168.8 452.5 169.4 452.5 170.0 452.7 170.6 452.4 171.2 452.8 171.8 453.0 172.4 452.4 173.0 452.2 173.6 452.5 174.2 452.8 174.8 452.8 175.4 452.5 176.0 452.3 176.6 452.5 177.2 452.8 177.8 452.3 178.4 452.9 179.0 452.6 179.6 452.6 180.2 452.3 180.8 452.7 181.4 452.2 182.0 451.6 182.6 452.1 183.2 451.6 183.8 451.9 184.4 451.4 185.0 451.1 185.6 451.1 186.2 450.8 186.8 450.5 187.4 450.6 188.0 450.8 188.6 450.4 189.2 450.3 189.8 450.0 193.8 449.4 198.8 450.0 205.0 448.8 208.8 447.5 216.2 446.2 221.2 448.0 226.2 450.6 230.0 450.0 236.2 448.0 241.2 446.2 247.5 445.0 250.6 436.2 251.9 432.5 253.5 434.0 255.0 433.1 256.2 440.0 258.1 446.2 260.0 448.0 264.2 450.0 270.5 449.4 278.0 451.2 285.5 449.4 291.8 448.0 299.2 448.0 304.2 446.9 306.1 436.9 309.2 435.6 311.8 433.8 314.2 437.5 316.1 445.0 319.2 446.2 323.0 450.0 328.0 449.4 330.5 436.2 333.0 434.4 335.5 437.5 336.0 442.5 337.9 447.5 341.0 445.0 343.5 432.5 345.4 437.5 346.6 446.2 348.5 441.2 349.8 446.2 351.6 431.2 352.9 433.8 354.8 437.5 357.9 442.5 361.0 446.2 364.8 449.4 368.5 451.2 372.2 451.2 376.0 448.8 379.8 446.2 382.9 442.5 384.8 440.0 386.0 443.1 388.5 446.9 392.2 450.0 396.0 448.8 401.0 446.2 406.0 448.1 411.0 448.1 416.0 448.8 419.0 449.4 422.8 448.8 425.9 446.9 429.0 448.8 430.4 449.6 431.0 449.8 431.6 450.3 432.2 450.5 432.8 451.3 433.4 450.3 434.0 450.9 434.6 451.2 435.2 451.4 435.8 450.8 436.4 451.0 437.0 451.5 437.6 451.9 438.2 452.1 438.8 451.4 439.4 452.0 440.0 452.3 440.6 452.0 441.2 451.7 441.8 451.8 442.4 451.7 443.0 452.5 443.6 452.1 444.2 452.0 444.8 451.9 445.4 452.2 446.0 452.0 446.6 452.0 447.2 452.3 447.8 452.3 448.4 452.5 449.0 452.4 449.6 452.8 450.2 452.4 450.8 452.6 451.4 452.6 452.0 452.2 452.6 452.7 453.2 452.1 453.8 451.6 454.4 452.4 455.0 452.1 455.6 451.7 456.2 452.0 456.8 451.9 457.4 451.7 458.0 451.1 458.6 451.4 459.2 450.9 459.8 451.0 460.4 450.9 461.0 450.7 461.6 451.1 462.2 450.6 462.8 451.0 463.4 450.7 464.0 450.4 464.6 450.6 465.2 450.8 465.8 450.9 466.4 450.4 467.0 451.0 467.6 450.6 468.2 450.8 468.8 450.0 469.4 450.0 470.0 450.7 470.6 450.2 471.2 450.4 471.8 450.6 472.4 449.8 473.0 450.3 473.6 450.7 474.2 450.4 474.8 450.1 475.4 450.2 476.0 450.0 476.6 450.3 477.2 450.5 477.8 450.0 478.4 450.3 479.0 450.3 479.6 450.5 480.2 450.6 480.8 450.0 481.4 450.8 482.0 450.7 482.6 450.2 483.2 450.5 483.8 450.2 484.4 450.6 485.0 450.8 485.6 450.4 486.2 450.5 486.8 450.5 487.4 450.6 488.0 450.7 488.6 450.6 489.2 451.1 489.8 451.0 490.4 450.8 491.0 451.4 491.6 451.0 492.2 451.5 492.8 450.9 493.4 451.7 495.0 452.3 541.0 452.3 541.5 453.4 558.0 453.4" stroke="#f0e442" fill="none" shape-rendering="crispEdges"/>
<rect x="59.5" y="39.5" width="559" height="414" stroke="#000" fill="none"/>
<rect x="480" y="44" width="132" height="63" fill="#fff"/>
<path d="M572 50.5H605" stroke="#9400d3"/>
<path d="M572 63.5H605" stroke="#009e73"/>
<path d="M572 76.5H605" stroke="#56b4e9"/>
<path d="M572 89.5H605" stroke="#e69f00"/>
<path d="M572 102.5H605" stroke="#f0e442"/>
<text transform="scale(1.0,1)" x="44.50" y="458.0">0</text>
<text transform="scale(1.0,1)" x="23.50 30.50 37.50 44.50" y="375.0">2000</text>
<text transform="scale(1.0,1)" x="23.50 30.50 37.50 44.50" y="292.0">4000</text>
<text transform="scale(1.0,1)" x="23.50 30.50 37.50 44.50" y="210.0">6000</text>
<text transform="scale(1.0,1)" x="23.50 30.50 37.50 44.50" y="127.0">8000</text>
<text transform="scale(1.0,1)" x="16.50 23.50 30.50 37.50 44.50" y="44.0">10000</text>
<text transform="scale(1.0,1)" x="41.50 48.50 55.50 62.50 69.50" y="471.0">06:00</text>
<text transform="scale(1.0,1)" x="111.50 118.50 125.50 132.50 139.50" y="471.0">08:00</text>
<text transform="scale(1.0,1)" x="181.50 188.50 195.50 202.50 209.50" y="471.0">10:00</text>
<text transform="scale(1.0,1)" x="251.50 258.50 265.50 272.50 279.50" y="471.0">12:00</text>
<text transform="scale(1.0,1)" x="321.50 328.50 335.50 342.50 349.50" y="471.0">14:00</text>
<text transform="scale(1.0,1)" x="390.50 397.50 404.50 411.50 418.50" y="471.0">16:00</text>
<text transform="scale(1.0,1)" x="460.50 467.50 474.50 481.50 488.50" y="471.0">18:00</text>
<text transform="scale(1.0,1)" x="530.50 537.50 544.50 551.50 558.50" y="471.0">20:00</text>
<text transform="scale(1.0,1)" x="600.50 607.50 614.50 621.50 628.50" y="471.0">22:00</text>
<text transform="scale(1.0,1)" x="208.50 215.50 222.50 229.50 236.50 243.50 250.50 257.50 264.50 271.50 278.50 285.50 292.50 299.50 306.50 313.50 320.50 327.50 334.50 341.50 348.50 355.50 362.50 369.50 376.50 383.50 390.50 397.50 404.50 411.50 418.50 425.50 432.50 439.50 446.50 453.50 460.50" y="25.0">Leistung, DC-Spannung/-Strom 20250521</text>
<text transform="scale(1.0,1)" x="480.50 487.50 494.50 501.50 508.50 515.50 522.50 529.50 536.50 543.50 550.50 557.50" y="55.0">Leistung [W]</text>
<text transform="scale(1.0,1)" x="480.50 487.50 494.50 501.50 508.50 515.50 522.50 529.50 536.50 543.50 550.50 557.50" y="68.0">Udc1 [100mV]</text>
<text transform="scale(1.0,1)" x="480.50 487.50 494.50 501.50 508.50 515.50 522.50 529.50 536.50 543.50 550.50 557.50" y="81.0">Udc2 [100mV]</text>
<text transform="scale(1.0,1)" x="487.50 494.50 501.50 508.50 515.50 522.50 529.50 536.50 543.50 550.50 557.50" y="94.0">Idc1 [10mA]</text>
<text transform="scale(1.0,1)" x="487.50 494.50 501.50 508.50 515.50 522.50 529.50 536.50 543.50 550.50 557.50" y="107.0">Idc2 [10mA]</text>
</svg>
</body></html>
